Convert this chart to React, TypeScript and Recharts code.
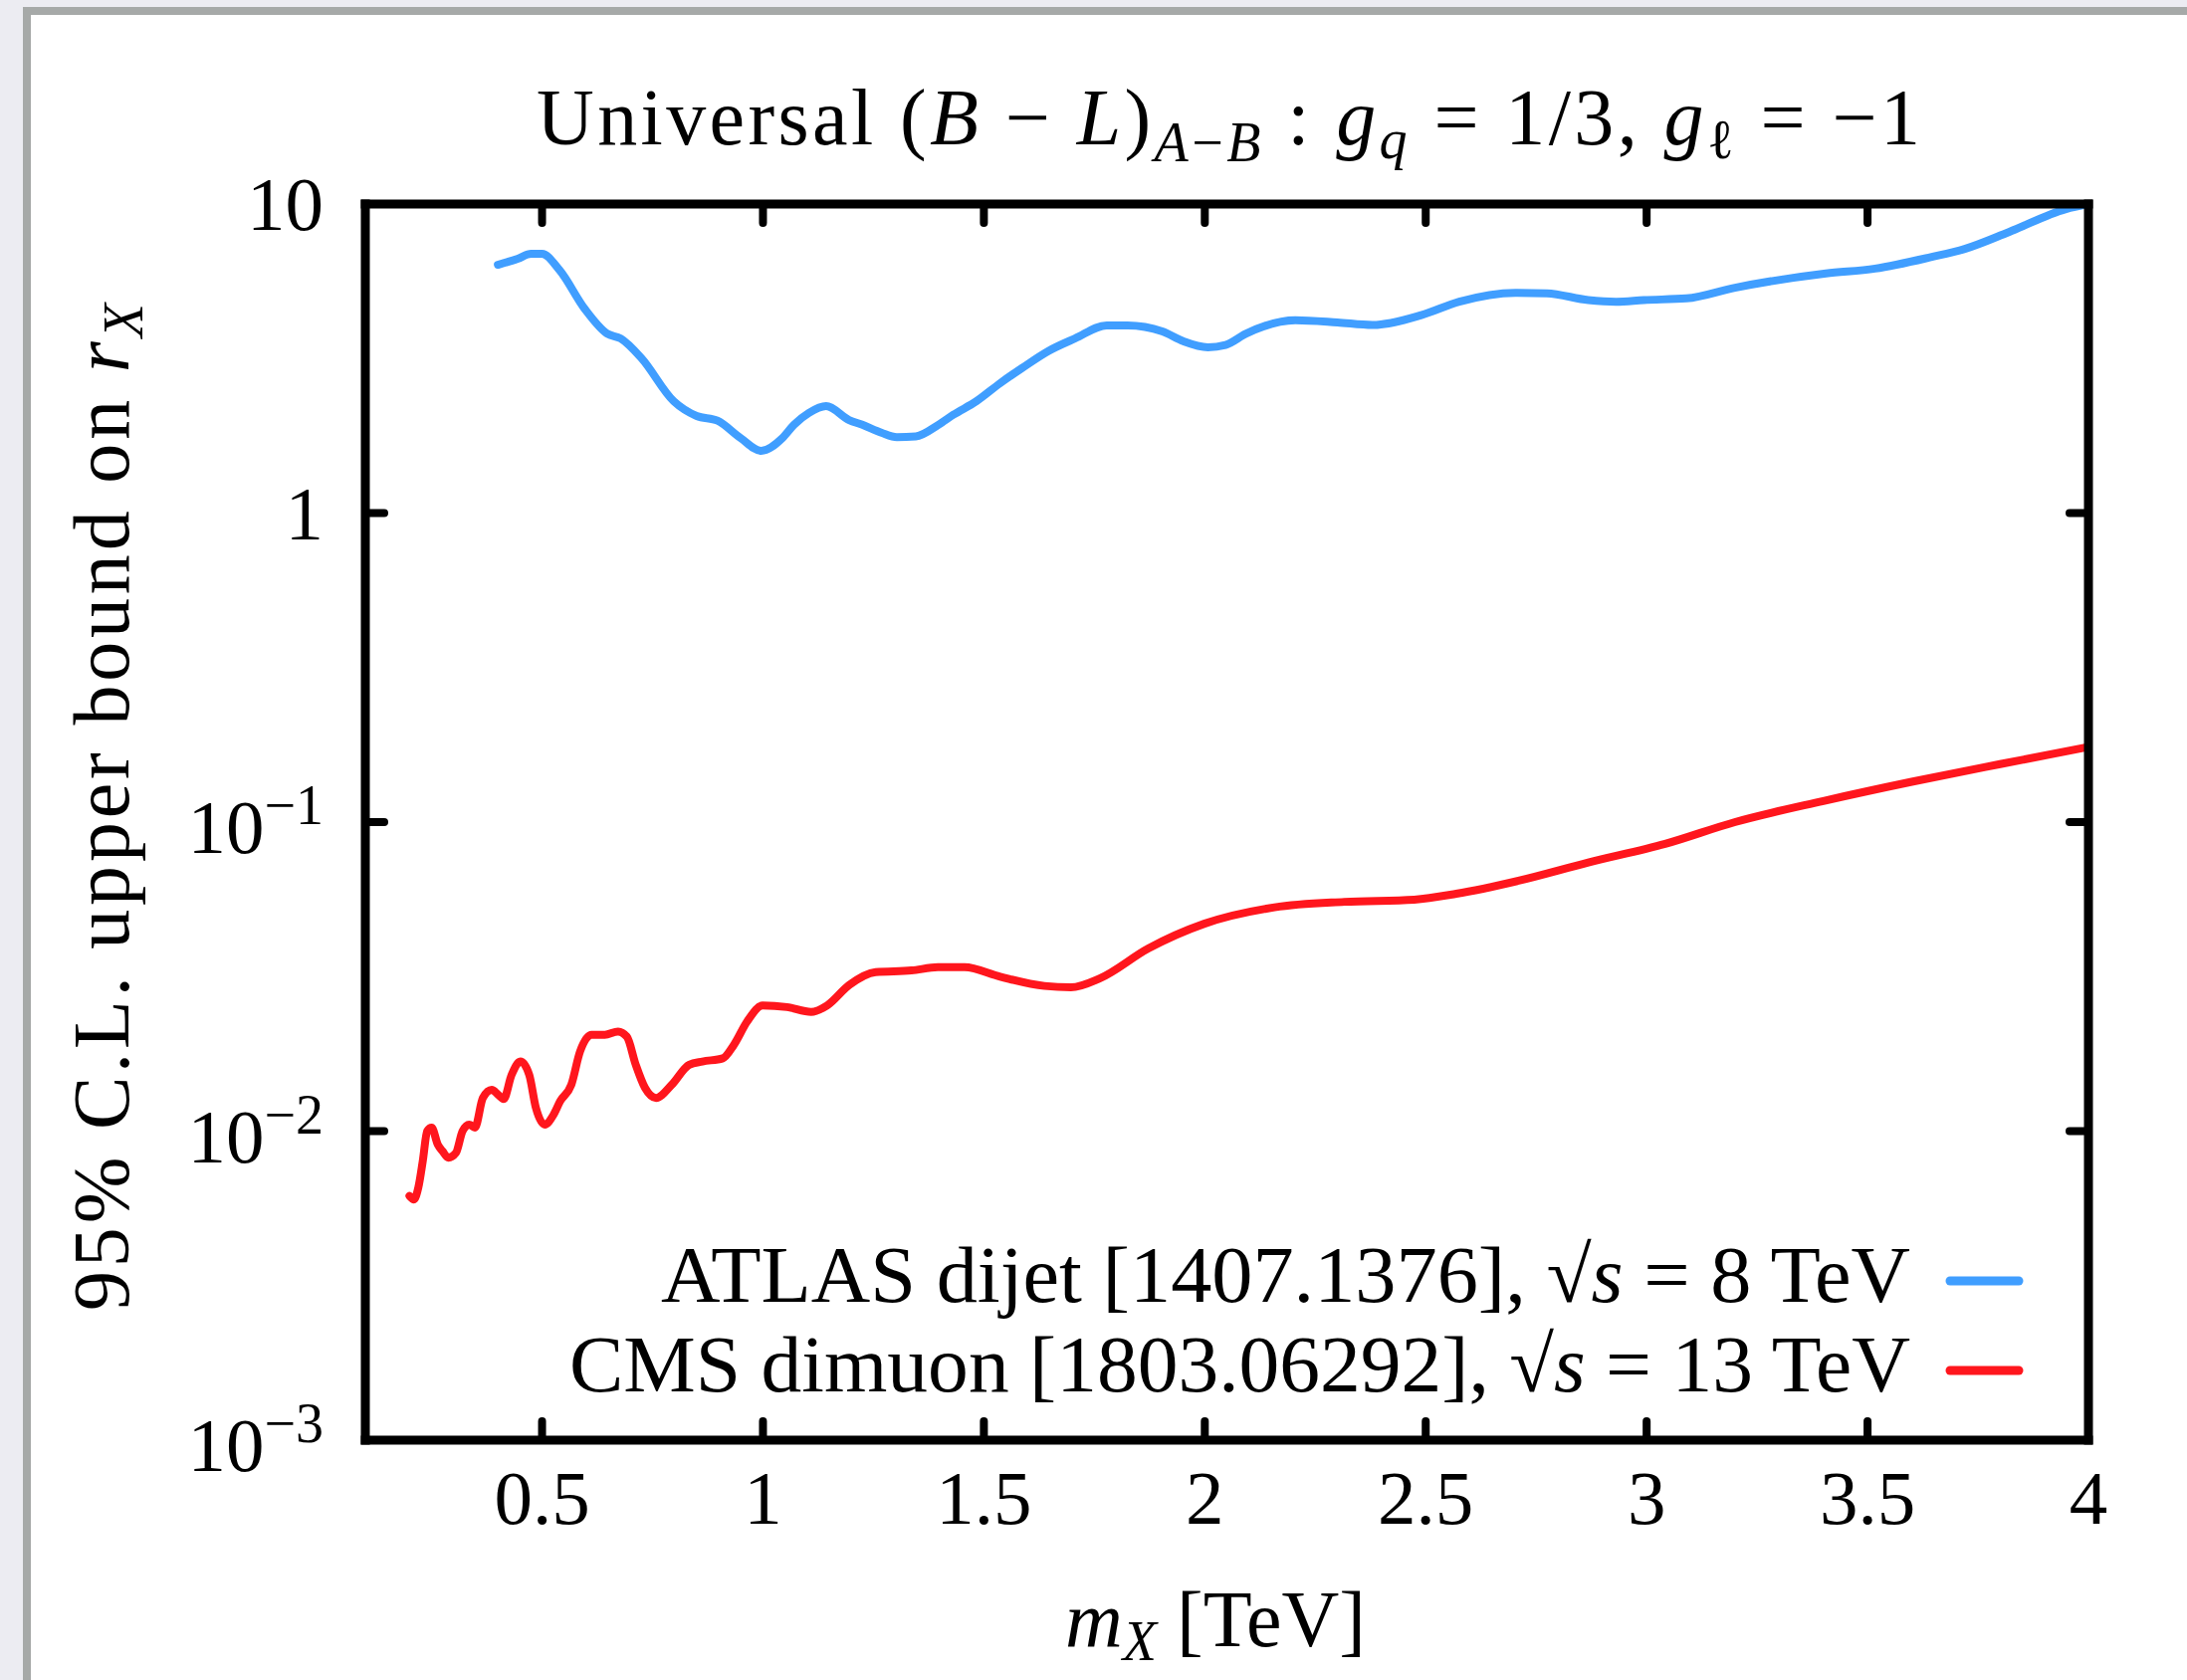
import React from 'react';
import { LineChart, Line, XAxis, YAxis, Legend } from 'recharts';

const FONT = '"Liberation Serif", "DejaVu Serif", serif';

// ATLAS dijet [1407.1376], sqrt(s) = 8 TeV
const atlasMass = [0.40, 0.445, 0.475, 0.50, 0.54, 0.596, 0.647, 0.678, 0.725, 0.798, 0.85, 0.897, 0.949, 0.996, 1.044, 1.07, 1.104, 1.143, 1.195, 1.225, 1.268, 1.303, 1.346, 1.397, 1.431, 1.483, 1.535, 1.587, 1.647, 1.706, 1.778, 1.825, 1.904, 1.951, 2.007, 2.047, 2.094, 2.205, 2.30, 2.379, 2.49, 2.576, 2.703, 2.774, 2.868, 2.931, 2.994, 3.09, 3.20, 3.406, 3.517, 3.643, 3.72, 3.821, 3.949, 4.0];
const atlasBound = [6.36, 6.65, 6.9, 6.9, 6.1, 4.59, 3.81, 3.67, 3.17, 2.30, 2.06, 1.99, 1.75, 1.59, 1.75, 1.93, 2.11, 2.22, 2.00, 1.93, 1.82, 1.76, 1.77, 1.93, 2.08, 2.30, 2.62, 2.95, 3.35, 3.67, 4.05, 4.05, 3.87, 3.60, 3.44, 3.50, 3.81, 4.21, 4.14, 4.06, 4.37, 4.83, 5.16, 5.14, 4.89, 4.83, 4.89, 4.95, 5.36, 5.96, 6.18, 6.73, 7.16, 8.13, 9.63, 10.0];

// CMS dimuon [1803.06292], sqrt(s) = 13 TeV
const cmsMass = [0.200, 0.210, 0.220, 0.230, 0.240, 0.250, 0.264, 0.275, 0.288, 0.305, 0.320, 0.335, 0.348, 0.366, 0.386, 0.401, 0.413, 0.431, 0.451, 0.471, 0.486, 0.506, 0.526, 0.541, 0.566, 0.586, 0.612, 0.642, 0.672, 0.692, 0.712, 0.733, 0.758, 0.793, 0.833, 0.863, 0.909, 0.934, 0.964, 0.999, 1.054, 1.109, 1.145, 1.195, 1.255, 1.336, 1.396, 1.456, 1.537, 1.637, 1.697, 1.762, 1.872, 1.999, 2.158, 2.316, 2.474, 2.569, 2.71, 2.868, 3.042, 3.2, 3.4, 3.6, 3.8, 4.0];
const cmsBound = [0.00617, 0.00601, 0.00657, 0.0080, 0.0100, 0.01026, 0.00905, 0.0086, 0.0082, 0.0085, 0.0100, 0.0105, 0.01026, 0.0128, 0.0136, 0.0131, 0.0127, 0.0152, 0.0168, 0.0152, 0.0119, 0.0105, 0.0113, 0.0125, 0.0141, 0.0181, 0.0205, 0.0205, 0.0210, 0.0202, 0.0164, 0.0138, 0.0128, 0.0141, 0.0164, 0.0168, 0.0172, 0.0190, 0.0226, 0.0255, 0.0252, 0.0243, 0.0255, 0.0297, 0.0327, 0.0331, 0.0339, 0.0339, 0.0316, 0.0295, 0.0292, 0.0312, 0.0390, 0.0469, 0.0530, 0.0552, 0.0561, 0.0586, 0.0646, 0.074, 0.085, 0.100, 0.117, 0.135, 0.154, 0.175];

const xTicks = [0.5, 1, 1.5, 2, 2.5, 3, 3.5, 4];
const xTickLabels = ['0.5', '1', '1.5', '2', '2.5', '3', '3.5', '4'];
const yTicks = [0.001, 0.01, 0.1, 1, 10];
const yTickBases = ['10', '10', '10', '1', '10'];
const yTickExps = ['−3', '−2', '−1', '', ''];

const seriesNames = ['ATLAS dijet [1407.1376], ', 'CMS dimuon [1803.06292], '];
const seriesEnergies = ['8', '13'];
const seriesColors = ['#409EFF', '#FF161D'];
const legendWidths = [1255, 1347];

const atlasData = atlasMass.map((m, i) => ({ m, v: atlasBound[i] }));
const cmsData = cmsMass.map((m, i) => ({ m, v: cmsBound[i] }));

const frameLine = { stroke: '#000', strokeWidth: 9, strokeLinecap: 'square' as const };
const TICK_LEN = 19;

const findIdx = (arr: number[], v: number) => arr.findIndex((a) => Math.abs(a - v) / Math.abs(a) < 1e-6);

const BottomTick = (props: any) => {
  const { x, y, payload } = props;
  const i = findIdx(xTicks, payload.value);
  return (
    <g>
      <line x1={x} y1={y} x2={x} y2={y - TICK_LEN} stroke="#000" strokeWidth={8} strokeLinecap="round" />
      <text x={x} y={y + 84} textAnchor="middle" fontSize={77} fontFamily={FONT} fill="#000">
        {xTickLabels[i]}
      </text>
    </g>
  );
};

const TopTick = (props: any) => {
  const { x, y } = props;
  return <line x1={x} y1={y} x2={x} y2={y + TICK_LEN} stroke="#000" strokeWidth={8} strokeLinecap="round" />;
};

const LeftTick = (props: any) => {
  const { x, y, payload } = props;
  const i = findIdx(yTicks, payload.value);
  const exp = yTickExps[i];
  return (
    <g>
      <line x1={x} y1={y} x2={x + TICK_LEN} y2={y} stroke="#000" strokeWidth={8} strokeLinecap="round" />
      <text x={x - 42} y={y + (exp ? 31 : 26)} textAnchor="end" fontSize={77} fontFamily={FONT} fill="#000">
        {yTickBases[i]}
        {exp ? (
          <tspan fontSize={56} dy={-29}>
            {exp}
          </tspan>
        ) : null}
      </text>
    </g>
  );
};

const RightTick = (props: any) => {
  const { x, y } = props;
  return <line x1={x} y1={y} x2={x - TICK_LEN} y2={y} stroke="#000" strokeWidth={8} strokeLinecap="round" />;
};

const renderLegend = (props: any) => {
  const payload = props.payload || [];
  return (
    <svg width={1600} height={200} style={{ display: 'block' }}>
      {payload.map((p: any, k: number) => {
        const i = Math.max(0, seriesNames.indexOf(p.value));
        return (
          <g key={k}>
            <text
              x={1419}
              y={88 + 90 * i}
              textAnchor="end"
              fontSize={80}
              fontFamily={FONT}
              fill="#000"
              textLength={legendWidths[i]}
              lengthAdjust="spacingAndGlyphs"
            >
              {seriesNames[i]}
              <tspan>√</tspan>
              <tspan fontStyle="italic">s</tspan>
              <tspan>{' = ' + seriesEnergies[i] + ' TeV'}</tspan>
            </text>
            <line x1={1459} x2={1528} y1={67 + 90 * i} y2={67 + 90 * i} stroke={p.color || seriesColors[i]} strokeWidth={9} strokeLinecap="round" />
          </g>
        );
      })}
    </svg>
  );
};

export default function App() {
  return (
    <div style={{ position: 'absolute', left: 0, top: 0, width: 2197, height: 1688, background: '#ececf2', overflow: 'hidden', fontFamily: FONT }}>
      <div
        style={{
          position: 'absolute',
          left: 23,
          top: 7,
          right: 0,
          bottom: 0,
          background: '#ffffff',
          borderLeft: '8px solid #a6a9a8',
          borderTop: '8px solid #a6a9a8',
        }}
      />
      <div style={{ position: 'absolute', left: 0, top: 0 }}>
        <LineChart width={2197} height={1688} margin={{ top: 195, right: 89, bottom: 181, left: 267 }}>
          <XAxis
            xAxisId="b"
            dataKey="m"
            type="number"
            domain={[0.1, 4]}
            ticks={xTicks}
            interval={0}
            allowDataOverflow
            tickSize={0}
            tickMargin={0}
            height={60}
            axisLine={frameLine}
            tickLine={false}
            tick={BottomTick}
          />
          <XAxis
            xAxisId="t"
            orientation="top"
            dataKey="m"
            type="number"
            domain={[0.1, 4]}
            ticks={xTicks}
            interval={0}
            allowDataOverflow
            tickSize={0}
            tickMargin={0}
            height={10}
            axisLine={frameLine}
            tickLine={false}
            tick={TopTick}
          />
          <YAxis
            yAxisId="l"
            type="number"
            scale="log"
            domain={[0.001, 10]}
            ticks={yTicks}
            interval={0}
            allowDataOverflow
            tickSize={0}
            tickMargin={0}
            width={100}
            axisLine={frameLine}
            tickLine={false}
            tick={LeftTick}
          />
          <YAxis
            yAxisId="r"
            orientation="right"
            type="number"
            scale="log"
            domain={[0.001, 10]}
            ticks={yTicks}
            interval={0}
            allowDataOverflow
            tickSize={0}
            tickMargin={0}
            width={10}
            axisLine={frameLine}
            tickLine={false}
            tick={RightTick}
          />
          <Line
            xAxisId="b"
            yAxisId="l"
            data={atlasData}
            dataKey="v"
            name={seriesNames[0]}
            type="monotone"
            stroke={seriesColors[0]}
            strokeWidth={8}
            strokeLinecap="round"
            strokeLinejoin="round"
            dot={false}
            activeDot={false}
            isAnimationActive={false}
          />
          <Line
            xAxisId="b"
            yAxisId="l"
            data={cmsData}
            dataKey="v"
            name={seriesNames[1]}
            type="monotone"
            stroke={seriesColors[1]}
            strokeWidth={8}
            strokeLinecap="round"
            strokeLinejoin="round"
            dot={false}
            activeDot={false}
            isAnimationActive={false}
          />
          <Legend
            layout="vertical"
            align="center"
            verticalAlign="middle"
            width={1600}
            height={200}
            wrapperStyle={{ position: 'absolute', left: 500, top: 1220, width: 1600, height: 200 }}
            content={renderLegend}
          />
        </LineChart>
      </div>
      <svg width={2197} height={1688} style={{ position: 'absolute', left: 0, top: 0, pointerEvents: 'none' }}>
        <text x={1234} y={145} textAnchor="middle" fontSize={80} fontFamily={FONT} fill="#000" textLength={1390} lengthAdjust="spacing">
          <tspan>Universal (</tspan>
          <tspan fontStyle="italic">B</tspan>
          <tspan>{' − '}</tspan>
          <tspan fontStyle="italic">L</tspan>
          <tspan>)</tspan>
          <tspan fontStyle="italic" fontSize={56} dy={17}>A</tspan>
          <tspan fontSize={56}>−</tspan>
          <tspan fontStyle="italic" fontSize={56}>B</tspan>
          <tspan dy={-17}>{' : '}</tspan>
          <tspan fontStyle="italic">g</tspan>
          <tspan fontStyle="italic" fontSize={56} dy={14}>q</tspan>
          <tspan dy={-14}>{' = 1/3, '}</tspan>
          <tspan fontStyle="italic">g</tspan>
          <tspan fontSize={56} dy={14}>ℓ</tspan>
          <tspan dy={-14}>{' = −1'}</tspan>
        </text>
        <text transform="translate(129,811) rotate(-90)" textAnchor="middle" fontSize={80} fontFamily={FONT} fill="#000" textLength={1012} lengthAdjust="spacing">
          <tspan>95% C.L. upper bound on </tspan>
          <tspan fontStyle="italic">r</tspan>
          <tspan fontStyle="italic" fontSize={56} dy={14}>X</tspan>
        </text>
        <text x={1070} y={1654} fontSize={80} fontFamily={FONT} fill="#000">
          <tspan fontStyle="italic">m</tspan>
          <tspan fontStyle="italic" fontSize={56} dy={14}>X</tspan>
          <tspan dy={-14}>{' [TeV]'}</tspan>
        </text>
      </svg>
    </div>
  );
}
